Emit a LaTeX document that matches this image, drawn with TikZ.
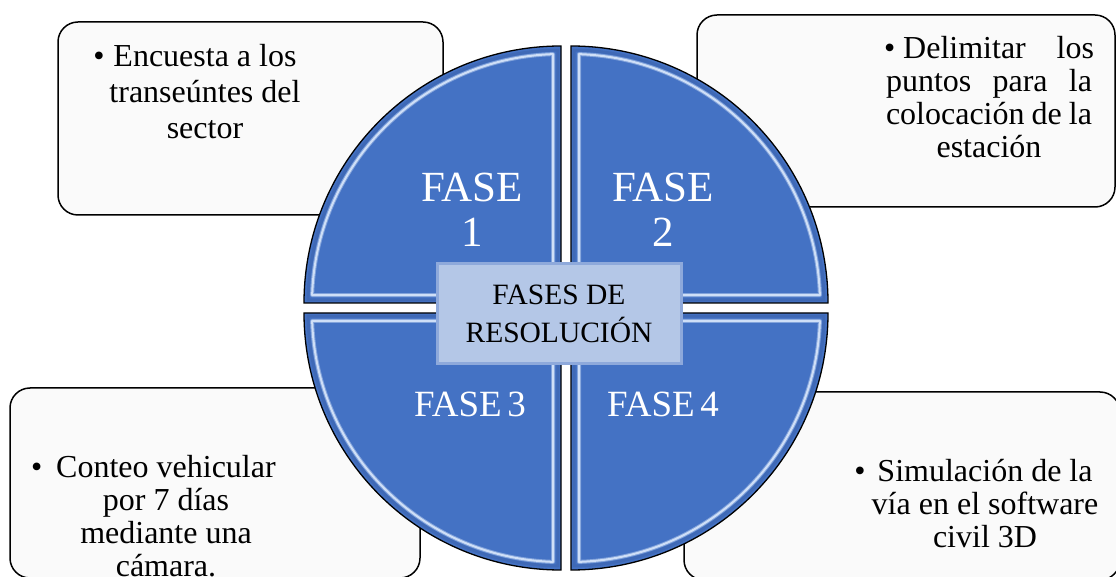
\documentclass[tikz,border=0pt]{standalone}
\usepackage{fontspec}
\setmainfont{Liberation Serif}

\definecolor{pieblue}{HTML}{4472C4}
\definecolor{pielight}{HTML}{CFDFF7}
\definecolor{hubfill}{HTML}{B4C7E7}
\definecolor{hubline}{HTML}{8EA9DB}
\definecolor{boxfill}{HTML}{FAFAFA}

% one quarter of the disc: #1 = inner corner, #2 = rotation
\newcommand{\pieslice}[2]{%
  \begin{scope}[shift={#1}, rotate=#2]
    \fill[pieblue] (0,0) -- (0:257pt) arc[start angle=0, end angle=90, radius=257pt] -- cycle;
    \draw[pieblue!80!black, line width=3pt, opacity=0.35] (3,3) -- (0.7:253pt) arc[start angle=0.7, end angle=89.3, radius=253pt] -- cycle;
    \draw[pielight, line width=4pt, opacity=0.45, line join=round] (8,8) -- (1.84:249pt) arc[start angle=1.84, end angle=88.16, radius=249pt] -- cycle;
    \draw[pielight, line width=2pt, line join=round] (8,8) -- (1.84:249pt) arc[start angle=1.84, end angle=88.16, radius=249pt] -- cycle;
    \draw[black, line width=1.3pt] (0,0) -- (0:257pt) arc[start angle=0, end angle=90, radius=257pt] -- cycle;
  \end{scope}}

\begin{document}
\begin{tikzpicture}[x=1pt, y=1pt,
    infobox/.style={draw=black, line width=1.5pt, fill=boxfill, rounded corners=20pt, inner sep=0pt},
    infotext/.style={inner sep=0pt, align=center, font=\fontsize{32}{33}\selectfont},
    phase/.style={inner sep=0pt, align=center, text=white}]
    \useasboundingbox (0,0) rectangle (1116,576);

    % Boxes behind the disc
    \node[infobox, minimum width=385pt, minimum height=193pt] (box1) at (250.5,457.5) {};
    \node[infobox, minimum width=418pt, minimum height=192pt] (box2) at (906,465) {};
    \node[infobox, minimum width=410pt, minimum height=190pt] (box3) at (215,93) {};
    \node[infobox, minimum width=436pt, minimum height=188pt] (box4) at (902,90) {};

    % Disc in four pieces
    \pieslice{(561,273)}{90}
    \pieslice{(571,273)}{0}
    \pieslice{(561,263)}{180}
    \pieslice{(571,263)}{270}

    % Phase labels
    \node[phase, font=\fontsize{43}{45}\selectfont] (fase1) at (472,366) {FASE\\1};
    \node[phase, font=\fontsize{43}{45}\selectfont] (fase2) at (663,366) {FASE\\2};
    \node[phase, font=\fontsize{37}{40}\selectfont] (fase3) at (470,172) {FASE\hspace{0.15em}3};
    \node[phase, font=\fontsize{37}{40}\selectfont] (fase4) at (663,172) {FASE\hspace{0.15em}4};

    % Centre box
    \node[draw=hubline, line width=3pt, fill=hubfill, minimum width=244pt, minimum height=100pt,
          align=center, inner sep=0pt, font=\fontsize{29.5}{38}\selectfont] (hub) at (559,262) {FASES DE\\RESOLUCIÓN};

    % Box texts
    \node[infotext, font=\fontsize{32}{36}\selectfont] (text1) at (205,484.5)
        {\leavevmode\llap{\textbullet\hspace{9pt}}Encuesta a los\\transeúntes del\\sector};
    \node[infotext] (text2) at (989,478.5)
        {\makebox[210pt][s]{\textbullet\ Delimitar\hfill los}\\
         \makebox[206pt][s]{puntos\hfill para\hfill la}\\
         \makebox[206pt][s]{colocación de la}\\
         \makebox[206pt][c]{estación}};
    \node[infotext] (text3) at (166,60)
        {\leavevmode\llap{\textbullet\hspace{14pt}}Conteo vehicular\\por 7 días\\mediante una\\cámara.};
    \node[infotext] (text4) at (985,72.5)
        {\leavevmode\llap{\textbullet\hspace{12pt}}Simulación de la\\vía en el software\\civil 3D};
\end{tikzpicture}
\end{document}
